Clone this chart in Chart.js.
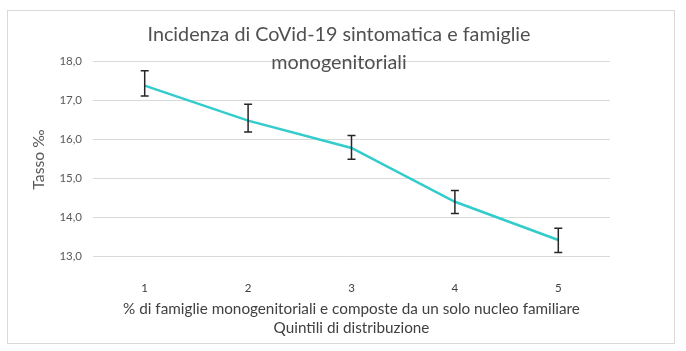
<html>
<head>
<meta charset="UTF-8">
<title>Incidenza CoVid-19</title>
<script src="https://cdn.jsdelivr.net/npm/chart.js@4/dist/chart.umd.min.js"></script>
<style>
  body { margin: 0; background: #fff; }
  #chart { display: block; }
</style>
</head>
<body>
<canvas id="chart" width="686" height="351"></canvas>
<script>
// data
var quintili = ['1', '2', '3', '4', '5'];
var tasso = [17.37, 16.47, 15.77, 14.39, 13.41];
var errHigh = [17.75, 16.89, 16.09, 14.68, 13.71];
var errLow = [17.10, 16.18, 15.48, 14.09, 13.09];
var yTicks = [13, 14, 15, 16, 17, 18];

var titleLines = ['Incidenza di CoVid-19 sintomatica e famiglie', 'monogenitoriali'];
var yTitle = 'Tasso \u2030';
var xTitleLines = ['% di famiglie monogenitoriali e composte da un solo nucleo familiare', 'Quintili di distribuzione'];

var FAMILY = 'Lato, "Open Sans", sans-serif';
var grey = '#595959';

// pick a font size so a text gets the width it has in the picture
var mctx = document.createElement('canvas').getContext('2d');
function fitSize(text, width) {
  mctx.font = '100px ' + FAMILY;
  return 100 * width / mctx.measureText(text).width;
}
var titleSize = fitSize(titleLines[0], 383);
var xTitleSize = fitSize(xTitleLines[0], 457);
var tickSize = 11.5;

var frameAndText = {
  id: 'frameAndText',
  beforeDraw: function(chart) {
    var c = chart.ctx;
    c.save();
    c.fillStyle = '#fff';
    c.fillRect(0, 0, chart.width, chart.height);
    c.strokeStyle = '#d9d9d9';
    c.lineWidth = 1;
    c.strokeRect(7.5, 10.5, 667, 333);
    c.restore();
  },
  afterDraw: function(chart) {
    var c = chart.ctx;
    var area = chart.chartArea;
    c.save();
    c.fillStyle = '#505050';
    c.textAlign = 'center';
    c.textBaseline = 'alphabetic';
    c.font = titleSize.toFixed(2) + 'px ' + FAMILY;
    c.fillText(titleLines[0], 339, 41);
    c.fillText(titleLines[1], 339, 69);

    c.fillStyle = '#404040';
    c.textBaseline = 'middle';
    c.font = xTitleSize.toFixed(2) + 'px ' + FAMILY;
    var cx = (area.left + area.right) / 2;
    c.fillText(xTitleLines[0], cx, 309);
    c.fillText(xTitleLines[1], cx, 328);

    c.fillStyle = grey;
    c.font = (xTitleSize + 0.5).toFixed(2) + 'px ' + FAMILY;
    c.translate(39, (area.top + area.bottom) / 2 + 1);
    c.rotate(-Math.PI / 2);
    c.fillText(yTitle, 0, 0);
    c.restore();
  }
};

var errorBars = {
  id: 'errorBars',
  afterDatasetsDraw: function(chart) {
    var c = chart.ctx;
    var xs = chart.scales.x, ys = chart.scales.y;
    c.save();
    c.strokeStyle = '#262626';
    c.lineWidth = 1.5;
    for (var i = 0; i < quintili.length; i++) {
      var x = xs.getPixelForValue(i);
      var top = ys.getPixelForValue(errHigh[i]);
      var bot = ys.getPixelForValue(errLow[i]);
      c.beginPath();
      c.moveTo(x, top); c.lineTo(x, bot);
      c.moveTo(x - 4, top); c.lineTo(x + 4, top);
      c.moveTo(x - 4, bot); c.lineTo(x + 4, bot);
      c.stroke();
    }
    c.restore();
  }
};

var myChart = new Chart(document.getElementById('chart'), {
  type: 'line',
  data: {
    labels: quintili,
    datasets: [{
      data: tasso,
      borderColor: '#33CCCC',
      borderWidth: 2.5,
      pointRadius: 0,
      tension: 0,
      fill: false
    }]
  },
  options: {
    responsive: false,
    animation: false,
    devicePixelRatio: 1,
    layout: { padding: { left: 0, top: 61, right: 76, bottom: 0 } },
    plugins: {
      legend: { display: false },
      title: { display: false },
      tooltip: { enabled: false }
    },
    scales: {
      x: {
        offset: true,
        grid: { display: false },
        border: { display: false },
        ticks: { color: '#404040', font: { family: FAMILY, size: tickSize }, padding: 17, maxRotation: 0 },
        afterFit: function(s) { s.height = 95; }
      },
      y: {
        min: 13,
        max: 18,
        afterBuildTicks: function(s) { s.ticks = yTicks.map(function(v) { return { value: v }; }); },
        grid: { color: '#d9d9d9', lineWidth: 1, drawTicks: false },
        border: { display: false },
        ticks: {
          color: grey,
          font: { family: FAMILY, size: tickSize },
          padding: 11,
          callback: function(v) { return v.toFixed(1).replace('.', ','); }
        },
        afterFit: function(s) { s.width = 93; }
      }
    }
  },
  plugins: [frameAndText, errorBars]
});
</script>
</body>
</html>
